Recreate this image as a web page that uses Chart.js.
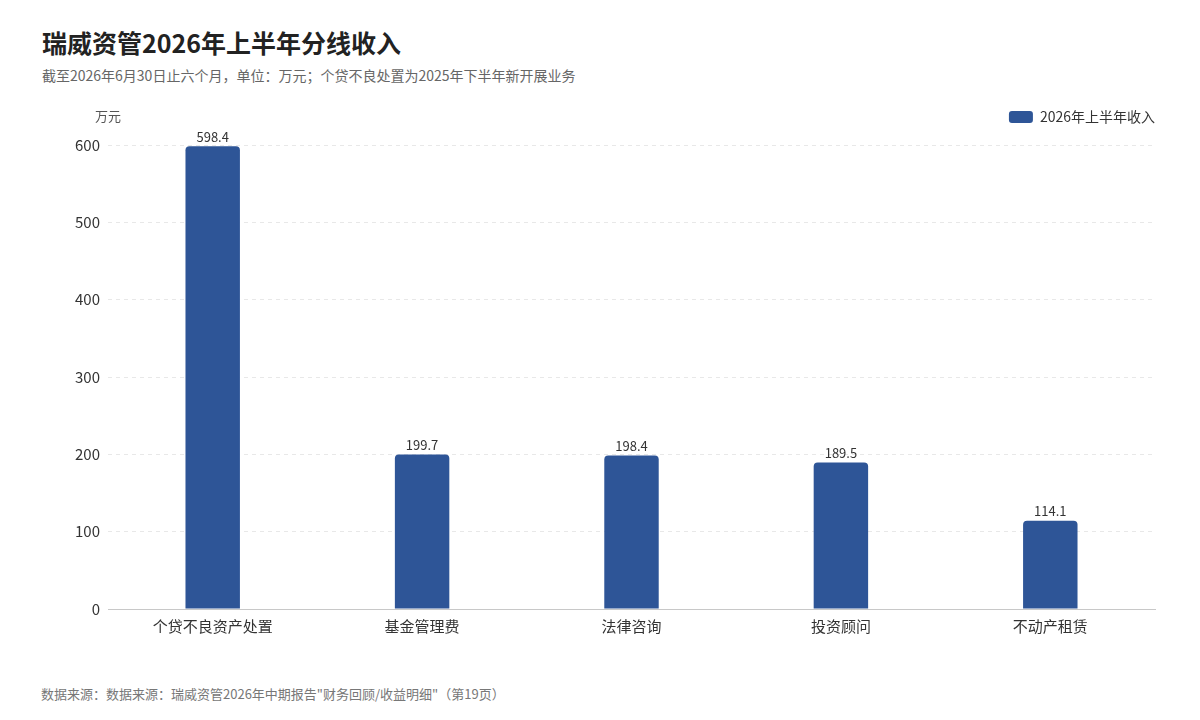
<!DOCTYPE html>
<html>
<head>
<meta charset="utf-8">
<script src="https://cdn.jsdelivr.net/npm/chart.js@4"></script>
<style>
  body { margin: 0; background: #fff; font-family: "Noto Sans CJK SC", "Noto Sans", sans-serif; }
  #page { position: relative; width: 1200px; height: 720px; overflow: hidden; }
  #titulo { position: absolute; left: 42px; top: 24px; font-size: 25px; font-weight: bold; color: #222; }
  #subtitulo { position: absolute; left: 42px; top: 65px; font-size: 14px; color: #666; }
  #rodape { position: absolute; left: 41px; top: 684px; font-size: 13px; color: #777; }
  #caixa { position: absolute; left: 40px; top: 100px; width: 1130px; height: 549px; }
</style>
</head>
<body>
<div id="page">
  <div id="titulo">瑞威资管2026年上半年分线收入</div>
  <div id="subtitulo">截至2026年6月30日止六个月，单位：万元；个贷不良处置为2025年下半年新开展业务</div>
  <div id="caixa"><canvas id="GraficoReceita"></canvas></div>
  <div id="rodape">数据来源：数据来源：瑞威资管2026年中期报告"财务回顾/收益明细"（第19页）</div>
</div>
<script>
var categorias = ["个贷不良资产处置", "基金管理费", "法律咨询", "投资顾问", "不动产租赁"];
var receitas = [598.4, 199.7, 198.4, 189.5, 114.1];
var nomeSerie = "2026年上半年收入";
var unidade = "万元";

var fonte = '"Noto Sans CJK SC", "Noto Sans", sans-serif';

// legenda encostada na direita e mais espaco abaixo dela
var pluginLegenda = {
    id: "ajusteLegenda",
    afterInit: function (chart) {
        var legenda = chart.legend;
        var fitOriginal = legenda.fit;
        legenda.fit = function () {
            fitOriginal.call(this);
            this.height += 11;
            if (this.lineWidths && this.lineWidths.length) {
                this.lineWidths[0] -= 10;
            }
        };
    }
};

// rotulos acima das barras + unidade do eixo
var pluginRotulos = {
    id: "rotulos",
    afterDatasetsDraw: function (chart) {
        var ctx = chart.ctx;
        var meta = chart.getDatasetMeta(0);
        ctx.save();
        ctx.font = "13px " + fonte;
        ctx.fillStyle = "#333";
        ctx.textAlign = "center";
        ctx.textBaseline = "bottom";
        meta.data.forEach(function (bar, i) {
            ctx.fillText(receitas[i].toFixed(1), bar.x, bar.y - 3);
        });
        ctx.fillStyle = "#555";
        ctx.textBaseline = "middle";
        ctx.fillText(unidade, chart.scales.y.right, 16);
        ctx.restore();
    }
};

var ctx = document.getElementById("GraficoReceita").getContext("2d");
var grafico = new Chart(ctx, {
    type: "bar",
    data: {
        labels: categorias,
        datasets: [{
            label: nomeSerie,
            data: receitas,
            backgroundColor: "#2e5597",
            borderRadius: { topLeft: 4, topRight: 4 },
            borderSkipped: "bottom",
            categoryPercentage: 1,
            barPercentage: 0.26
        }]
    },
    options: {
        responsive: true,
        maintainAspectRatio: false,
        animation: false,
        layout: { padding: { top: 0, right: 15, bottom: 0, left: 0 } },
        plugins: {
            legend: {
                position: "top",
                align: "end",
                labels: {
                    boxWidth: 24,
                    boxHeight: 12,
                    useBorderRadius: true,
                    borderRadius: 3,
                    color: "#333",
                    font: { family: fonte, size: 14 },
                    padding: 10
                },
                onClick: null
            },
            tooltip: { enabled: false }
        },
        scales: {
            x: {
                grid: { display: false, drawTicks: false },
                border: { display: true, color: "#c8c8c8" },
                ticks: { color: "#333", font: { family: fonte, size: 15 }, padding: 8 },
                afterFit: function (scale) { scale.height = 40; }
            },
            y: {
                min: 0,
                max: 600,
                ticks: { stepSize: 100, color: "#333", font: { family: fonte, size: 15 }, padding: 8 },
                grid: { color: "#e8e8e8", drawTicks: false },
                border: { display: false, dash: [4, 4] },
                afterFit: function (scale) { scale.width = 68; }
            }
        }
    },
    plugins: [pluginLegenda, pluginRotulos]
});
</script>
</body>
</html>
